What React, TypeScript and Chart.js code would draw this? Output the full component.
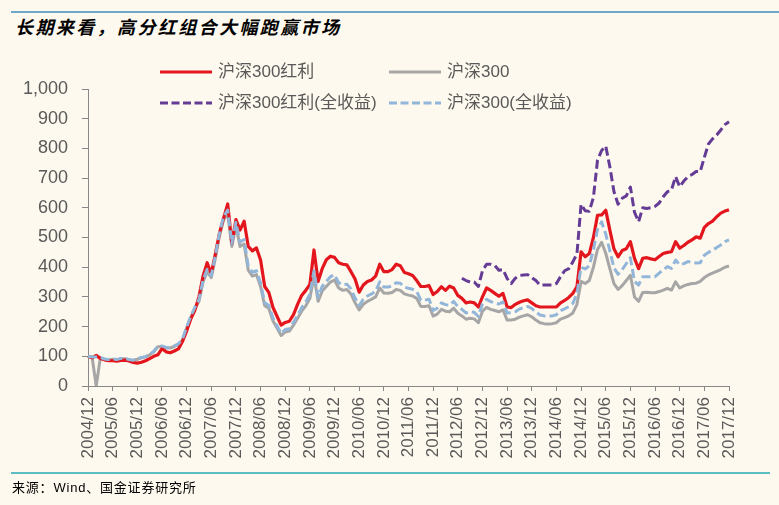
import React, { useEffect, useRef } from "react";
import { Chart, registerables } from "chart.js";

Chart.register(...registerables);

// ---- categories: monthly from 2004/12 to 2017/12 ----
const months: string[] = [];
for (let i = 0; i <= 156; i++) {
  const m = ((11 + i) % 12) + 1;
  const y = 2004 + Math.floor((11 + i) / 12);
  months.push(`${y}/${String(m).padStart(2, "0")}`);
}

const yTicks = [0, 100, 200, 300, 400, 500, 600, 700, 800, 900, 1000];

// ---- series (rows: 2004/12, then one row per year Jan..Dec) ----
const hs300Div: number[] = [
  100,
  95, 103, 93, 88, 85, 85, 84, 86, 87, 84, 79, 77,
  80, 85, 92, 100, 105, 126, 115, 112, 118, 125, 150, 185,
  225, 255, 300, 370, 415, 378, 445, 515, 565, 613, 480, 560,
  525, 555, 470, 455, 465, 424, 335, 315, 265, 235, 205, 214,
  218, 240, 275, 305, 322, 342, 458, 352, 395, 425, 437, 433,
  415, 410, 408, 385, 360, 316, 340, 352, 357, 370, 410, 385,
  385, 392, 410, 405, 382, 378, 372, 355, 335, 335, 338, 308,
  318, 334, 322, 336, 330, 305, 295, 280, 283, 280, 266, 300,
  330, 322, 312, 302, 312, 266, 264, 275, 282, 287, 290, 280,
  270, 266, 266, 266, 266, 266, 280, 288, 298, 312, 335, 452,
  435, 446, 500, 575, 576, 592, 525, 462, 435, 456, 462, 486,
  430, 395, 430, 432, 428, 425, 436, 446, 450, 452, 486, 464,
  473, 484, 492, 502, 498, 534, 547, 555, 570, 582, 589, 593,
];

const hs300: number[] = [
  100,
  97, 0, 95, 90, 88, 90, 88, 92, 92, 88, 86, 90,
  95, 98, 105, 115, 132, 133, 128, 128, 133, 140, 155, 195,
  230, 260, 285, 350, 385, 365, 430, 505, 560, 580, 470, 540,
  470, 478, 390, 370, 375, 335, 270, 262, 220, 195, 170, 182,
  185, 205, 228, 252, 270, 295, 370, 285, 320, 335, 350, 357,
  330, 322, 325, 310, 280, 256, 275, 285, 292, 300, 330, 313,
  312, 315, 325, 322, 310, 306, 303, 295, 268, 268, 270, 235,
  242, 258, 252, 250, 262, 245, 236, 225, 228, 226, 213, 252,
  265, 258, 254, 250, 256, 222, 222, 225, 232, 236, 240, 233,
  222, 213, 210, 209, 210, 213, 225, 230, 236, 246, 275, 352,
  345, 355, 400, 460, 484, 447, 395, 345, 325, 338, 355, 373,
  300, 285, 315, 316, 314, 314, 318, 323, 329, 323, 351, 330,
  337, 342, 345, 346, 352, 365, 374, 380, 386, 392, 400, 404,
];

const hs300DivTotalReturnFrom = 91; // first value at 2012/07
const hs300DivTotalReturnValues: number[] = [
  363, 355, 350, 350, 335, 388,
  410, 410, 406, 390, 392, 362, 345, 363, 372, 374, 375, 365,
  355, 340, 340, 340, 340, 345, 368, 388, 395, 418, 445, 612,
  590, 588, 635, 760, 793, 808, 738, 655, 612, 632, 640, 670,
  585, 553, 600, 598, 600, 605, 616, 637, 654, 660, 705, 671,
  690, 705, 712, 722, 722, 770, 815, 832, 845, 862, 880, 890,
];

const hs300TotalReturn: number[] = [
  100,
  98, 98, 96, 91, 89, 91, 89, 93, 93, 89, 87, 91,
  96, 99, 106, 117, 134, 135, 130, 130, 135, 142, 158, 198,
  235, 265, 291, 357, 393, 372, 439, 515, 571, 592, 480, 551,
  485, 493, 403, 383, 388, 347, 280, 272, 229, 203, 177, 190,
  193, 214, 238, 264, 283, 309, 388, 299, 336, 352, 368, 375,
  348, 340, 343, 327, 296, 271, 292, 303, 310, 319, 351, 333,
  333, 337, 348, 346, 333, 329, 326, 318, 289, 289, 292, 254,
  262, 280, 274, 272, 285, 267, 258, 246, 250, 248, 234, 277,
  292, 284, 280, 276, 283, 246, 247, 250, 259, 264, 268, 261,
  249, 239, 236, 235, 236, 240, 254, 260, 267, 278, 312, 400,
  394, 405, 458, 527, 553, 512, 455, 398, 376, 392, 412, 432,
  352, 340, 368, 368, 368, 368, 380, 391, 402, 396, 424, 408,
  412, 419, 416, 414, 415, 440, 450, 458, 466, 475, 486, 492,
];

const hs300DivTotalReturn: (number | null)[] = [
  ...Array(hs300DivTotalReturnFrom).fill(null),
  ...hs300DivTotalReturnValues,
];

const seriesNames = ["沪深300红利", "沪深300", "沪深300红利(全收益)", "沪深300(全收益)"];

const BG = "#FEF9EE";
const RED = "#E3161E";
const GRAY = "#A6A6A6";
const PURPLE = "#643C96";
const LIGHTBLUE = "#92B6DA";
const AXIS = "#888888";
const TICK = "#595959";
const FONT = '"Liberation Sans", Arial, "Noto Sans CJK SC", sans-serif';

function LegendItem(props: { x: number; cy: number; color: string; dash?: string; text: string }) {
  const { x, cy, color, dash, text } = props;
  return (
    <>
      <svg
        width={52}
        height={8}
        style={{ position: "absolute", left: x, top: cy - 4 }}
      >
        <line x1={0} y1={4} x2={52} y2={4} stroke={color} strokeWidth={3} strokeDasharray={dash} />
      </svg>
      <div
        style={{
          position: "absolute",
          left: x + 58,
          top: cy - 11,
          height: 22,
          lineHeight: "22px",
          fontSize: 17,
          fontFamily: FONT,
          color: TICK,
          whiteSpace: "nowrap",
        }}
      >
        {text}
      </div>
    </>
  );
}

export default function App() {
  const canvasRef = useRef<HTMLCanvasElement | null>(null);

  useEffect(() => {
    document.body.style.margin = "0";
    document.body.style.background = BG;
    const canvas = canvasRef.current;
    if (!canvas) return;
    const chart = new Chart(canvas, {
      type: "line",
      data: {
        labels: months,
        datasets: [
          {
            label: seriesNames[2],
            data: hs300DivTotalReturn,
            borderColor: PURPLE,
            borderWidth: 3,
            borderDash: [9, 4],
            pointRadius: 0,
            tension: 0,
            order: 1,
            borderJoinStyle: "round",
          },
          {
            label: seriesNames[3],
            data: hs300TotalReturn,
            borderColor: LIGHTBLUE,
            borderWidth: 3,
            borderDash: [9, 4],
            pointRadius: 0,
            tension: 0,
            order: 2,
            borderJoinStyle: "round",
          },
          {
            label: seriesNames[0],
            data: hs300Div,
            borderColor: RED,
            borderWidth: 3.2,
            pointRadius: 0,
            tension: 0,
            order: 3,
            borderJoinStyle: "round",
          },
          {
            label: seriesNames[1],
            data: hs300,
            borderColor: GRAY,
            borderWidth: 3,
            pointRadius: 0,
            tension: 0,
            order: 4,
            borderJoinStyle: "round",
          },
        ],
      },
      options: {
        responsive: false,
        animation: false,
        devicePixelRatio: 1,
        layout: { padding: { left: 0, right: 50, top: 89, bottom: 0 } },
        plugins: {
          legend: { display: false },
          title: { display: false },
          tooltip: { enabled: false },
        },
        scales: {
          x: {
            type: "category",
            offset: false,
            grid: {
              display: true,
              drawOnChartArea: false,
              drawTicks: true,
              tickLength: 5,
              color: (ctx: any) => (ctx.index % 6 === 0 ? AXIS : "rgba(0,0,0,0)"),
            },
            border: { display: true, color: AXIS, width: 1 },
            ticks: {
              autoSkip: false,
              minRotation: 90,
              maxRotation: 90,
              padding: 6,
              color: TICK,
              font: { size: 17, family: FONT },
              callback: (_v: any, i: number) => (i % 6 === 0 ? months[i] : ""),
            },
            afterFit: (s: any) => {
              s.height = 119;
            },
          },
          y: {
            min: yTicks[0],
            max: yTicks[yTicks.length - 1],
            grid: {
              display: true,
              drawOnChartArea: false,
              drawTicks: true,
              tickLength: 6,
              color: AXIS,
            },
            border: { display: true, color: AXIS, width: 1 },
            ticks: {
              stepSize: 100,
              padding: 14,
              color: TICK,
              font: { size: 18, family: FONT },
              callback: (v: any) => Number(v).toLocaleString("en-US"),
            },
            afterFit: (s: any) => {
              s.width = 88;
            },
          },
        },
      },
    });
    return () => chart.destroy();
  }, []);

  return (
    <div style={{ position: "relative", width: 779, height: 505, background: BG, overflow: "hidden" }}>
      <div style={{ position: "absolute", left: 11, top: 11, width: 768, height: 1.5, background: "#6FA8C8" }} />
      <div
        style={{
          position: "absolute",
          left: 15,
          top: 13,
          height: 26,
          lineHeight: "26px",
          fontSize: 18,
          fontWeight: "bold",
          fontStyle: "italic",
          letterSpacing: 2.4,
          fontFamily: '"Noto Sans CJK SC", sans-serif',
          color: "#000",
          whiteSpace: "nowrap",
        }}
      >
        长期来看，高分红组合大幅跑赢市场
      </div>
      <canvas
        ref={canvasRef}
        width={779}
        height={505}
        style={{ position: "absolute", left: 0, top: 0, width: 779, height: 505 }}
      />
      <LegendItem x={160} cy={71.5} color={RED} text={seriesNames[0]} />
      <LegendItem x={389} cy={71.5} color={GRAY} text={seriesNames[1]} />
      <LegendItem x={160} cy={103} color={PURPLE} dash="8 3.5" text={seriesNames[2]} />
      <LegendItem x={389} cy={103} color={LIGHTBLUE} dash="8 3.5" text={seriesNames[3]} />
      <div style={{ position: "absolute", left: 11, top: 472, width: 759, height: 2, background: "#5BBDBF" }} />
      <div
        style={{
          position: "absolute",
          left: 12,
          top: 478,
          height: 19,
          lineHeight: "19px",
          fontSize: 13,
          letterSpacing: 0.8,
          fontFamily: '"Liberation Sans", "Noto Sans CJK SC", sans-serif',
          color: "#000",
          whiteSpace: "nowrap",
        }}
      >
        来源：Wind、国金证券研究所
      </div>
    </div>
  );
}
